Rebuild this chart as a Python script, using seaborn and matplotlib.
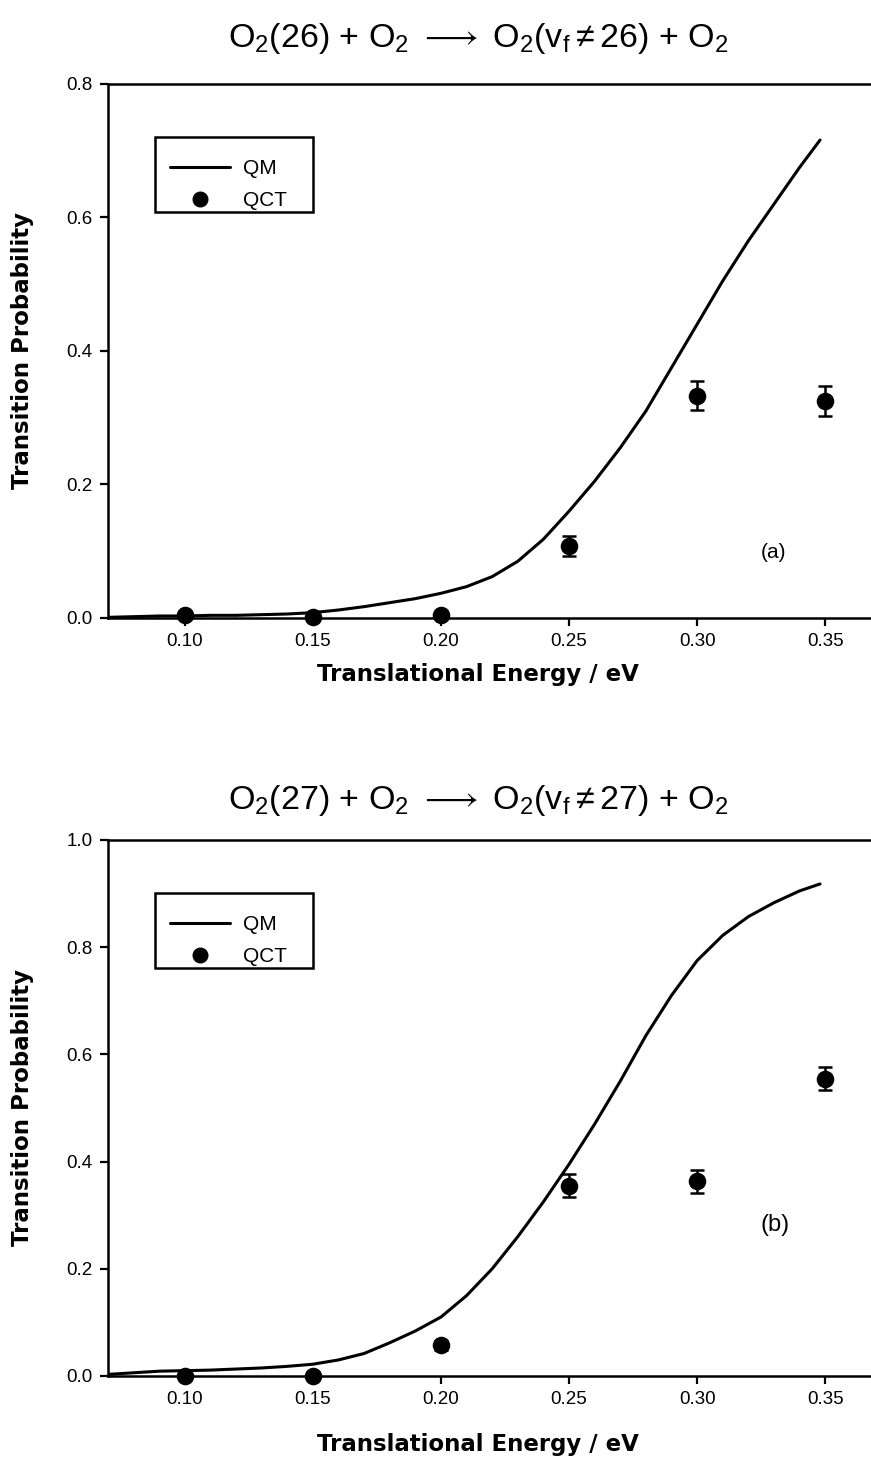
import numpy as np
import pandas as pd
import matplotlib
matplotlib.use("Agg")
import matplotlib.pyplot as plt
import seaborn as sns
from matplotlib.lines import Line2D
from matplotlib.patches import Rectangle

sns.set_theme(style="white")
plt.rcParams['font.family'] = ['Liberation Sans', 'DejaVu Sans']
plt.rcParams['mathtext.fontset'] = 'custom'
plt.rcParams['mathtext.rm'] = 'Liberation Sans'
plt.rcParams['mathtext.it'] = 'Liberation Sans'

# ---------------- data ----------------
qm_energy = [0.07, 0.08, 0.09, 0.10, 0.11, 0.12, 0.13, 0.14, 0.15, 0.16, 0.17,
             0.18, 0.19, 0.20, 0.21, 0.22, 0.23, 0.24, 0.25, 0.26, 0.27, 0.28,
             0.29, 0.30, 0.31, 0.32, 0.33, 0.34, 0.348]
qm_prob_a = [0.001, 0.002, 0.003, 0.003, 0.004, 0.004, 0.005, 0.006, 0.008, 0.012,
             0.017, 0.023, 0.029, 0.037, 0.047, 0.062, 0.085, 0.118, 0.160, 0.205,
             0.255, 0.31, 0.375, 0.44, 0.505, 0.565, 0.62, 0.675, 0.716]
qm_prob_b = [0.003, 0.006, 0.009, 0.010, 0.011, 0.013, 0.015, 0.018, 0.022, 0.030,
             0.042, 0.062, 0.084, 0.110, 0.15, 0.20, 0.26, 0.325, 0.395, 0.47,
             0.55, 0.635, 0.71, 0.775, 0.822, 0.857, 0.883, 0.905, 0.918]

qct_energy = [0.10, 0.15, 0.20, 0.25, 0.30, 0.35]
qct_prob_a = [0.004, 0.002, 0.005, 0.108, 0.333, 0.325]
qct_err_a = [0.0, 0.0, 0.0, 0.015, 0.022, 0.022]
qct_prob_b = [0.0, 0.0, 0.057, 0.355, 0.363, 0.555]
qct_err_b = [0.0, 0.0, 0.008, 0.021, 0.021, 0.021]

titles = [r"O$_2$(26) + O$_2$ $\longrightarrow$ O$_2$(v$_\mathrm{f}$$\neq$26) + O$_2$",
          r"O$_2$(27) + O$_2$ $\longrightarrow$ O$_2$(v$_\mathrm{f}$$\neq$27) + O$_2$"]
panel_tags = ["(a)", "(b)"]
yticks_a = [0.0, 0.2, 0.4, 0.6, 0.8]
yticks_b = [0.0, 0.2, 0.4, 0.6, 0.8, 1.0]
xticks = [0.10, 0.15, 0.20, 0.25, 0.30, 0.35]

# ---------------- figure ----------------
W, H = 871, 1470
fig = plt.figure(figsize=(W / 100, H / 100), dpi=100)

def px_axes(left, top, right, bottom):
    return [left / W, 1 - bottom / H, (right - left) / W, (bottom - top) / H]

ax_a = fig.add_axes(px_axes(108, 84, 902, 618))
ax_b = fig.add_axes(px_axes(108, 840, 902, 1376))

panels = [
    # ax, qm, qct, err, yticks, ylim, tag pos, axes top px, axes h px, title y, xlabel y, legend top
    (ax_a, qm_prob_a, qct_prob_a, qct_err_a, yticks_a, (0, 0.8), (773, 553), 84, 534, 38, -0.084, 137),
    (ax_b, qm_prob_b, qct_prob_b, qct_err_b, yticks_b, (0, 1.0), (775, 1225), 840, 536, 800, -0.106, 893),
]

label_font = dict(family=['DejaVu Sans'], size=16.5, weight='bold', color='black')

for i, (ax, qm, qct, err, yt, ylim, tagpos, top_px, h_px, title_y, xl_y, leg_top) in enumerate(panels):
    qm_df = pd.DataFrame({"E": qm_energy, "P": qm})
    qct_df = pd.DataFrame({"E": qct_energy, "P": qct})
    sns.lineplot(data=qm_df, x="E", y="P", ax=ax, color="black", linewidth=2.2,
                 estimator=None, sort=False, legend=False)
    ax.errorbar(qct_energy, qct, yerr=err, fmt="none", ecolor="black",
                elinewidth=1.8, capsize=5, capthick=1.8, zorder=3)
    sns.scatterplot(data=qct_df, x="E", y="P", ax=ax, color="black", s=160,
                    edgecolor="black", linewidth=0, zorder=4, legend=False,
                    clip_on=False)

    ax.set_xlim(0.07, 0.38)
    ax.set_ylim(*ylim)
    ax.set_xticks(xticks)
    ax.set_xticklabels([f"{v:.2f}" for v in xticks], fontsize=13.5)
    ax.set_yticks(yt)
    ax.set_yticklabels([f"{v:.1f}" for v in yt], fontsize=13.5)
    ax.tick_params(axis="both", direction="out", length=6, width=1.6,
                   color="black", labelcolor="black", pad=5,
                   bottom=True, left=True)
    for side in ["left", "top", "bottom"]:
        ax.spines[side].set_color("black")
        ax.spines[side].set_linewidth(1.8)
        ax.spines[side].set_visible(True)
    ax.spines["right"].set_visible(False)

    ax.set_xlabel("Translational Energy / eV", fontdict=label_font)
    ax.set_ylabel("Transition Probability", fontdict=label_font)
    ax.xaxis.set_label_coords(0.466, xl_y)
    ax.yaxis.set_label_coords(-0.093, 0.5)

    fig.text(478 / W, 1 - title_y / H, titles[i], fontsize=24.5, color="black",
             ha="center", va="center")

    # legend box (drawn as a rectangle) and entries
    ax.add_patch(Rectangle((155 / W, 1 - (leg_top + 75) / H), 158 / W, 75 / H,
                           transform=fig.transFigure, fill=True, facecolor="white",
                           edgecolor="black", linewidth=1.8, clip_on=False, zorder=5))
    handles = [Line2D([0], [0], color="black", lw=2.2),
               Line2D([0], [0], marker="o", color="black", lw=0, markersize=10.5)]
    entries_top = leg_top + 22
    leg = ax.legend(handles, ["QM", "QCT"], loc="upper left",
                    bbox_to_anchor=((170 - 108) / 794, 1 - (entries_top - top_px) / h_px),
                    fontsize=15, frameon=False, handlelength=2.9,
                    borderpad=0, labelspacing=0.62, handletextpad=0.6,
                    borderaxespad=0)
    leg.set_zorder(6)
    for t in leg.get_texts():
        t.set_color("black")

    fig.text(tagpos[0] / W, 1 - tagpos[1] / H, panel_tags[i],
             fontsize=15 if i == 0 else 17, ha="center", va="center", color="black")

fig.savefig("out.png", dpi=100)
